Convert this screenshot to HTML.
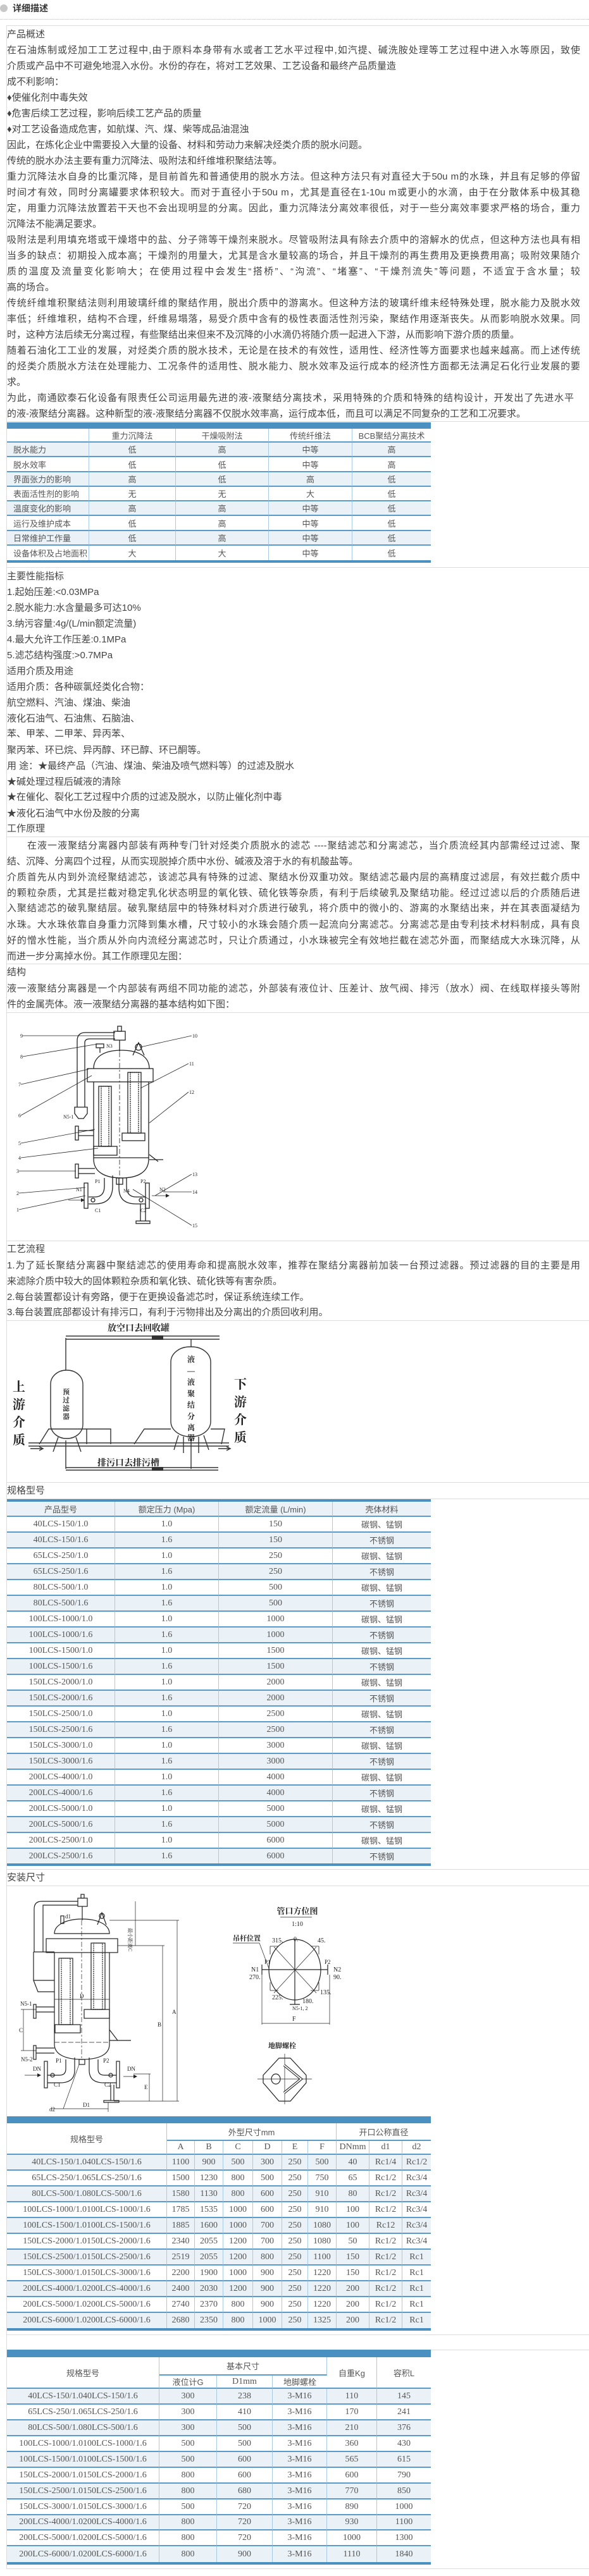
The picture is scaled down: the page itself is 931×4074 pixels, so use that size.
<!DOCTYPE html>
<html><head><meta charset="utf-8">
<style>
*{margin:0;padding:0;box-sizing:border-box}
body{width:931px;height:4074px;background:#fff;position:relative;overflow:hidden;font-family:"Liberation Sans","Noto Sans CJK SC",sans-serif;color:#444}
.t{position:absolute;left:11px;font-size:15px;line-height:24px;white-space:nowrap;height:24px}
.j{width:906px;white-space:normal;text-align:justify;text-align-last:justify;overflow:hidden}
.hl{position:absolute;left:11px;width:920px;height:1px;background:#dcdcdc}
.bar{position:absolute;left:11px;width:670px;background:#4a90c0}
table{position:absolute;left:11px;border-collapse:separate;border-spacing:0;table-layout:fixed;font-size:13px;color:#555}
td{padding:0;box-sizing:border-box;border-bottom:2px solid #5b9bc9;border-right:1px solid #a8c9e2;text-align:center;vertical-align:middle;overflow:hidden;white-space:nowrap}
td:last-child{border-right:none}
tr.b td{background:#eaf2f8}
.ser td{font-family:"Liberation Serif","Noto Serif CJK SC",serif;font-size:14px}
.ser td.c{font-family:"Liberation Sans","Noto Sans CJK SC",sans-serif;font-size:13px}
svg text{font-family:"Liberation Serif","Noto Serif CJK SC",serif;fill:#222;stroke:none}
</style></head><body>

<div style="position:absolute;left:0;top:7px;width:12px;height:12px;border-radius:6px;background:#c8c8c8"></div>
<div style="position:absolute;left:20px;top:4px;font-size:14px;font-weight:bold;color:#333;line-height:18px">详细描述</div>
<div style="position:absolute;left:0;top:30px;width:931px;border-top:1px dotted #bbb"></div>
<div style="position:absolute;left:10px;top:40px;width:921px;height:4023px;border:1px solid #dcdcdc;border-right:none"></div>

<div class="t" style="top:43px">产品概述</div>
<div class="t j" style="top:68px">在石油炼制或烃加工工艺过程中,由于原料本身带有水或者工艺水平过程中,如汽提、碱洗胺处理等工艺过程中进入水等原因，致使</div>
<div class="t" style="top:93px">介质或产品中不可避免地混入水份。水份的存在，将对工艺效果、工艺设备和最终产品质量造</div>
<div class="t" style="top:118px">成不利影响：</div>
<div class="t" style="top:143px">♦使催化剂中毒失效</div>
<div class="t" style="top:168px">♦危害后续工艺过程，影响后续工艺产品的质量</div>
<div class="t" style="top:193px">♦对工艺设备造成危害，如航煤、汽、煤、柴等成品油混浊</div>
<div class="t" style="top:218px">因此，在炼化企业中需要投入大量的设备、材料和劳动力来解决烃类介质的脱水问题。</div>
<div class="t" style="top:243px">传统的脱水办法主要有重力沉降法、吸附法和纤维堆积聚结法等。</div>
<div class="t j" style="top:268px">重力沉降法水自身的比重沉降，是目前首先和普通使用的脱水方法。但这种方法只有对直径大于50u m的水珠，并且有足够的停留</div>
<div class="t j" style="top:293px">时间才有效，同时分离罐要求体积较大。而对于直径小于50u m，尤其是直径在1-10u m或更小的水滴，由于在分散体系中极其稳</div>
<div class="t j" style="top:318px">定，用重力沉降法放置若干天也不会出现明显的分离。因此，重力沉降法分离效率很低，对于一些分离效率要求严格的场合，重力</div>
<div class="t" style="top:343px">沉降法不能满足要求。</div>
<div class="t j" style="top:368px">吸附法是利用填充塔或干燥塔中的盐、分子筛等干燥剂来脱水。尽管吸附法具有除去介质中的溶解水的优点，但这种方法也具有相</div>
<div class="t j" style="top:393px">当多的缺点：初期投入成本高；干燥剂的用量大，尤其是含水量较高的场合，并且干燥剂的再生费用及更换费用高；吸附效果随介</div>
<div class="t j" style="top:418px">质的温度及流量变化影响大；在使用过程中会发生“搭桥”、“沟流”、“堵塞”、“干燥剂流失”等问题，不适宜于含水量；较</div>
<div class="t" style="top:443px">高的场合。</div>
<div class="t j" style="top:468px">传统纤维堆积聚结法则利用玻璃纤维的聚结作用，脱出介质中的游离水。但这种方法的玻璃纤维未经特殊处理，脱水能力及脱水效</div>
<div class="t j" style="top:493px">率低；纤维堆积，结构不合理，纤维易塌落，易受介质中含有的极性表面活性剂污染，聚结作用逐渐丧失。从而影响脱水效果。同</div>
<div class="t" style="top:518px">时，这种方法后续无分离过程，有些聚结出来但来不及沉降的小水滴仍将随介质一起进入下游，从而影响下游介质的质量。</div>
<div class="t j" style="top:543px">随着石油化工工业的发展，对烃类介质的脱水技术，无论是在技术的有效性，适用性、经济性等方面要求也越来越高。而上述传统</div>
<div class="t j" style="top:568px">的烃类介质脱水方法在处理能力、工况条件的适用性、脱水能力、脱水效率及运行成本的经济性方面都无法满足石化行业发展的要</div>
<div class="t" style="top:593px">求。</div>
<div class="t j" style="top:618px;width:896px">为此，南通欧泰石化设备有限责任公司运用最先进的液-液聚结分离技术，采用特殊的介质和特殊的结构设计，开发出了先进水平</div>
<div class="t" style="top:643px">的液-液聚结分离器。这种新型的液-液聚结分离器不仅脱水效率高，运行成本低，而且可以满足不同复杂的工艺和工况要求。</div>
<div class="hl" style="top:666px"></div>

<!-- table 1 -->
<div class="bar" style="top:668px;height:10px"></div>
<table style="top:678px;width:670px">
<colgroup><col style="width:130px"><col style="width:137px"><col style="width:147px"><col style="width:132px"><col style="width:124px"></colgroup>
<tr style="height:22px"><td></td><td>重力沉降法</td><td>干燥吸附法</td><td>传统纤维法</td><td>BCB聚结分离技术</td></tr>
<tr class="b" style="height:23px"><td style="text-align:left;padding-left:10px">脱水能力</td><td>低</td><td>高</td><td>中等</td><td>高</td></tr>
<tr style="height:24px"><td style="text-align:left;padding-left:10px">脱水效率</td><td>低</td><td>低</td><td>中等</td><td>高</td></tr>
<tr class="b" style="height:23px"><td style="text-align:left;padding-left:10px">界面张力的影响</td><td>高</td><td>低</td><td>高</td><td>低</td></tr>
<tr style="height:23px"><td style="text-align:left;padding-left:10px">表面活性剂的影响</td><td>无</td><td>无</td><td>大</td><td>低</td></tr>
<tr class="b" style="height:23px"><td style="text-align:left;padding-left:10px">温度变化的影响</td><td>高</td><td>高</td><td>中等</td><td>低</td></tr>
<tr style="height:24px"><td style="text-align:left;padding-left:10px">运行及维护成本</td><td>低</td><td>高</td><td>中等</td><td>低</td></tr>
<tr class="b" style="height:23px"><td style="text-align:left;padding-left:10px">日常维护工作量</td><td>低</td><td>高</td><td>中等</td><td>低</td></tr>
<tr style="height:23px"><td style="text-align:left;padding-left:10px;border-bottom:none">设备体积及占地面积</td><td style="border-bottom:none">大</td><td style="border-bottom:none">大</td><td style="border-bottom:none">中等</td><td style="border-bottom:none">低</td></tr>
</table>
<div class="bar" style="top:886px;height:4px"></div>
<div class="hl" style="top:897px"></div>

<div class="t" style="top:900px">主要性能指标</div>
<div class="t" style="top:925px">1.起始压差:&lt;0.03MPa</div>
<div class="t" style="top:950px">2.脱水能力:水含量最多可达10%</div>
<div class="t" style="top:975px">3.纳污容量:4g/(L/min额定流量)</div>
<div class="t" style="top:1000px">4.最大允许工作压差:0.1MPa</div>
<div class="t" style="top:1025px">5.滤芯结构强度:&gt;0.7MPa</div>
<div class="t" style="top:1050px">适用介质及用途</div>
<div class="t" style="top:1075px">适用介质：各种碳氯烃类化合物：</div>
<div class="t" style="top:1100px">航空燃料、汽油、煤油、柴油</div>
<div class="t" style="top:1125px">液化石油气、石油焦、石脑油、</div>
<div class="t" style="top:1149px">苯、甲苯、二甲苯、异丙苯、</div>
<div class="t" style="top:1175px">聚丙苯、环已烷、异丙醇、环已醇、环已酮等。</div>
<div class="t" style="top:1200px">用 途：★最终产品（汽油、煤油、柴油及喷气燃料等）的过滤及脱水</div>
<div class="t" style="top:1225px">★碱处理过程后碱液的清除</div>
<div class="t" style="top:1249px">★在催化、裂化工艺过程中介质的过滤及脱水，以防止催化剂中毒</div>
<div class="t" style="top:1275px">★液化石油气中水份及胺的分离</div>
<div class="t" style="top:1299px">工作原理</div>
<div class="hl" style="top:1323px"></div>
<div class="t j" style="top:1326px">　　在液一液聚结分离器内部装有两种专门针对烃类介质脱水的滤芯 ----聚结滤芯和分离滤芯，当介质流经其内部需经过过滤、聚</div>
<div class="t" style="top:1351px">结、沉降、分离四个过程，从而实现脱掉介质中水份、碱液及溶于水的有机酸盐等。</div>
<div class="t j" style="top:1376px">介质首先从内到外流经聚结滤芯，该滤芯具有特殊的过滤、聚结水份双重功效。聚结滤芯最内层的高精度过滤层，有效拦截介质中</div>
<div class="t j" style="top:1401px">的颗粒杂质，尤其是拦截对稳定乳化状态明显的氧化铁、硫化铁等杂质，有利于后续破乳及聚结功能。经过过滤以后的介质随后进</div>
<div class="t j" style="top:1425px">入聚结滤芯的破乳聚结层。破乳聚结层中的特殊材料对介质进行破乳，将介质中的微小的、游离的水聚结出来，并在其表面凝结为</div>
<div class="t j" style="top:1451px">水珠。大水珠依靠自身重力沉降到集水槽，尺寸较小的水珠会随介质一起流向分离滤芯。分离滤芯是由专利技术材料制成，具有良</div>
<div class="t j" style="top:1476px">好的憎水性能，当介质从外向内流经分离滤芯时，只让介质通过，小水珠被完全有效地拦截在滤芯外面，而聚结成大水珠沉降，从</div>
<div class="t" style="top:1501px">而进一步分离掉水份。其工作原理见左图：</div>
<div class="hl" style="top:1524px"></div>
<div class="t" style="top:1526px">结构</div>
<div class="t j" style="top:1552px">液一液聚结分离器是一个内部装有两组不同功能的滤芯，外部装有液位计、压差计、放气阀、排污（放水）阀、在线取样接头等附</div>
<div class="t" style="top:1577px">件的金属壳体。液一液聚结分离器的基本结构如下图：</div>
<div class="hl" style="top:1601px"></div>

<!-- structure drawing -->
<svg style="position:absolute;left:0;top:1601px" width="340" height="361" viewBox="0 0 340 361">
<g stroke="#222" fill="none" stroke-width="1.3">
<path d="M122 150 V45 Q122 32 135 32 H182 M134 150 V48 Q134 42 142 42 H182"/>
<path d="M118 150 H138 V160 L132 168 H124 L118 160 Z"/>
<rect x="180" y="30" width="18" height="14"/><rect x="186" y="22" width="6" height="8"/>
<line x1="189" y1="44" x2="189" y2="62"/>
<path d="M148 89 C148 70 165 60 192 60 C219 60 236 70 236 89"/>
<rect x="138" y="89" width="104" height="21"/>
<path d="M148 110 V232 C148 255 170 262 192 262 C214 262 235 255 235 232 V110"/>
<line x1="148" y1="230" x2="235" y2="230"/>
<rect x="156" y="117" width="20" height="95"/><rect x="160" y="117" width="12" height="95" stroke-dasharray="2 1"/>
<rect x="148" y="212" width="37" height="14"/>
<rect x="202" y="95" width="21" height="96"/><rect x="206" y="95" width="13" height="96" stroke-dasharray="2 1"/>
<rect x="193" y="191" width="36" height="12"/>
<line x1="189" y1="63" x2="189" y2="262" stroke-dasharray="8 3 3 3" stroke-width="0.8"/>
<circle cx="219" cy="55" r="5"/><path d="M210 68 L219 48 L228 68"/>
<rect x="152" y="50" width="12" height="6"/><line x1="158" y1="56" x2="158" y2="64"/>
<path d="M124 187 H148 M124 195 H148"/><rect x="119" y="180" width="5" height="22"/>
<path d="M124 247 H150 M124 255 H150"/><rect x="119" y="240" width="5" height="22"/>
<path d="M236 225 L250 236 M236 233 H258"/>
<path d="M165 262 V275 Q165 292 150 292 H140 M178 258 V275 Q178 303 150 303 H140"/>
<rect x="133" y="270" width="6" height="40"/><circle cx="147" cy="297" r="3"/>
<path d="M200 262 V275 Q200 292 215 292 H230 M188 262 V278 Q188 303 215 303 H230"/>
<rect x="230" y="270" width="6" height="40"/><circle cx="223" cy="297" r="3"/>
<path d="M222 303 V330 M230 303 V330"/><rect x="215" y="330" width="22" height="4"/>
<rect x="184" y="262" width="10" height="10"/>
</g>
<g stroke="#222" stroke-width="0.8" fill="none">
<path d="M36 37 H180 M36 70 L155 50 M33 114 L140 90 M33 163 L145 100 M33 207 L150 185 M33 230 L155 215 M30 251 L120 251 M30 286 L135 277 M30 312 L135 290"/>
<path d="M303 37 L222 55 M298 81 L222 120 M298 126 L236 175 M303 256 L245 290 M303 284 L258 284 M303 337 L210 280"/>
<path d="M108 297 H128 M240 290 H262"/>
</g>
<path d="M128 294 L134 297 L128 300Z M262 287 L268 290 L262 293Z" fill="#222"/>
<g font-size="8">
<text x="32" y="40">9</text><text x="32" y="73">8</text><text x="29" y="117">7</text><text x="29" y="166">6</text><text x="100" y="168">N5-1</text><text x="29" y="210">5</text><text x="29" y="233">4</text><text x="26" y="254">3</text><text x="26" y="289">2</text><text x="26" y="315">1</text>
<text x="304" y="40">10</text><text x="299" y="84">11</text><text x="299" y="129">12</text><text x="304" y="259">13</text><text x="304" y="287">14</text><text x="304" y="340">15</text>
<text x="168" y="56">N3</text><text x="150" y="270">P1</text><text x="222" y="270">P2</text><text x="120" y="283">N1</text><text x="252" y="283">N2</text><text x="150" y="316">C1</text><text x="222" y="316">C2</text><text x="195" y="285">N4</text>
</g>
<g font-size="13" font-weight="bold" style="font-family:'Noto Serif CJK SC',serif">
<text x="347" y="40">1、进料口</text><text x="347" y="61">2、压力表口</text><text x="347" y="82">3、液位计口</text><text x="347" y="102">4、聚结滤芯</text><text x="347" y="123">5、滤芯连接器</text><text x="347" y="144">6、金属密封垫</text><text x="347" y="165">7、连接螺栓</text><text x="347" y="186">8、放空口</text><text x="347" y="207">9、设备吊杆</text><text x="347" y="227">10、设备吊耳</text><text x="347" y="248">11、分离滤芯</text><text x="347" y="269">12、设备壳体</text><text x="347" y="290">13、出料口</text><text x="347" y="311">14、取样口</text><text x="347" y="332">15、排污口</text>
</g>
</svg>
<div class="hl" style="top:1962px"></div>
<div class="t" style="top:1964px">工艺流程</div>
<div class="t j" style="top:1990px">1.为了延长聚结分离器中聚结滤芯的使用寿命和提高脱水效率，推荐在聚结分离器前加装一台预过滤器。预过滤器的目的主要是用</div>
<div class="t" style="top:2015px">来滤除介质中较大的固体颗粒杂质和氧化铁、硫化铁等有害杂质。</div>
<div class="t" style="top:2040px">2.每台装置都设计有旁路，便于在更换设备滤芯时，保证系统连续工作。</div>
<div class="t" style="top:2064px">3.每台装置底部都设计有排污口，有利于污物排出及分离出的介质回收利用。</div>
<div class="hl" style="top:2088px"></div>

<!-- flow drawing -->
<svg style="position:absolute;left:0;top:2088px" width="400" height="256" viewBox="0 0 400 256">
<g stroke="#333" fill="none" stroke-width="1.4">
<path d="M104 25 H347 M104 30 H347"/>
<path d="M104 28 V79 M302 30 V42"/>
<rect x="80" y="79" width="51" height="108" rx="25" ry="22"/>
<rect x="270" y="42" width="63" height="142" rx="30" ry="24"/>
<path d="M45 194 H362 M45 199 H362"/>
<path d="M62 196 L77 172 H137 V196 M137 172 H175 V196"/>
<path d="M212 196 L228 172 H270 M333 172 H355 L350 196"/>
<path d="M92 185 L84 208 M120 185 L128 208 M282 182 L275 205 M322 182 L330 205 M290 184 L290 210 M314 184 L314 210"/>
<path d="M104 190 V235 M302 186 V235 M104 233 H345 M104 237 H345"/>
</g>
<path d="M240 24 H258 V31 H240Z M240 232 H258 V238 H240Z" fill="#333"/>
<path d="M48 203 H66 M62 200 L68 203 L62 206 M345 203 H362 M358 200 L364 203 L358 206" stroke="#333" stroke-width="1.5" fill="none"/>
<g font-weight="bold" style="font-family:'Noto Serif CJK SC',serif" fill="#222">
<text x="170" y="17" font-size="14">放空口去回收罐</text>
<text x="154" y="230" font-size="14">排污口去排污槽</text>
<g font-size="11"><text x="99" y="117">预</text><text x="99" y="130">过</text><text x="99" y="143">滤</text><text x="99" y="156">器</text></g>
<g font-size="12"><text x="296" y="66">液</text><text x="296" y="84">—</text><text x="296" y="102">液</text><text x="296" y="120">聚</text><text x="296" y="138">结</text><text x="296" y="156">分</text><text x="296" y="174">离</text><text x="296" y="190">器</text></g>
<g font-size="20"><text x="20" y="112">上</text><text x="20" y="140">游</text><text x="20" y="168">介</text><text x="20" y="196">质</text>
<text x="370" y="108">下</text><text x="370" y="136">游</text><text x="370" y="164">介</text><text x="370" y="192">质</text></g>
</g>
</svg>
<div class="hl" style="top:2344px"></div>
<div class="t" style="top:2346px">规格型号</div>
<div class="hl" style="top:2370px"></div>

<!-- spec table -->
<div class="bar" style="top:2371px;height:4px"></div>
<table class="ser" style="top:2375px;width:670px">
<colgroup><col style="width:171px"><col style="width:164px"><col style="width:180px"><col style="width:155px"></colgroup>
<tr class="b" style="height:24px"><td class="c">产品型号</td><td class="c">额定压力 (Mpa)</td><td class="c">额定流量 (L/min)</td><td class="c">壳体材料</td></tr>
<tr style="height:25px"><td>40LCS-150/1.0</td><td>1.0</td><td>150</td><td class="c">碳钢、锰钢</td></tr>
<tr class="b" style="height:25px"><td>40LCS-150/1.6</td><td>1.6</td><td>150</td><td class="c">不锈钢</td></tr>
<tr style="height:25px"><td>65LCS-250/1.0</td><td>1.0</td><td>250</td><td class="c">碳钢、锰钢</td></tr>
<tr class="b" style="height:25px"><td>65LCS-250/1.6</td><td>1.6</td><td>250</td><td class="c">不锈钢</td></tr>
<tr style="height:25px"><td>80LCS-500/1.0</td><td>1.0</td><td>500</td><td class="c">碳钢、锰钢</td></tr>
<tr class="b" style="height:25px"><td>80LCS-500/1.6</td><td>1.6</td><td>500</td><td class="c">不锈钢</td></tr>
<tr style="height:25px"><td>100LCS-1000/1.0</td><td>1.0</td><td>1000</td><td class="c">碳钢、锰钢</td></tr>
<tr class="b" style="height:25px"><td>100LCS-1000/1.6</td><td>1.6</td><td>1000</td><td class="c">不锈钢</td></tr>
<tr style="height:25px"><td>100LCS-1500/1.0</td><td>1.0</td><td>1500</td><td class="c">碳钢、锰钢</td></tr>
<tr class="b" style="height:25px"><td>100LCS-1500/1.6</td><td>1.6</td><td>1500</td><td class="c">不锈钢</td></tr>
<tr style="height:25px"><td>150LCS-2000/1.0</td><td>1.0</td><td>2000</td><td class="c">碳钢、锰钢</td></tr>
<tr class="b" style="height:25px"><td>150LCS-2000/1.6</td><td>1.6</td><td>2000</td><td class="c">不锈钢</td></tr>
<tr style="height:25px"><td>150LCS-2500/1.0</td><td>1.0</td><td>2500</td><td class="c">碳钢、锰钢</td></tr>
<tr class="b" style="height:25px"><td>150LCS-2500/1.6</td><td>1.6</td><td>2500</td><td class="c">不锈钢</td></tr>
<tr style="height:25px"><td>150LCS-3000/1.0</td><td>1.0</td><td>3000</td><td class="c">碳钢、锰钢</td></tr>
<tr class="b" style="height:25px"><td>150LCS-3000/1.6</td><td>1.6</td><td>3000</td><td class="c">不锈钢</td></tr>
<tr style="height:25px"><td>200LCS-4000/1.0</td><td>1.0</td><td>4000</td><td class="c">碳钢、锰钢</td></tr>
<tr class="b" style="height:25px"><td>200LCS-4000/1.6</td><td>1.6</td><td>4000</td><td class="c">不锈钢</td></tr>
<tr style="height:25px"><td>200LCS-5000/1.0</td><td>1.0</td><td>5000</td><td class="c">碳钢、锰钢</td></tr>
<tr class="b" style="height:25px"><td>200LCS-5000/1.6</td><td>1.6</td><td>5000</td><td class="c">不锈钢</td></tr>
<tr style="height:25px"><td>200LCS-2500/1.0</td><td>1.0</td><td>6000</td><td class="c">碳钢、锰钢</td></tr>
<tr class="b" style="height:23px"><td style="border-bottom:none">200LCS-2500/1.6</td><td style="border-bottom:none">1.6</td><td style="border-bottom:none">6000</td><td class="c" style="border-bottom:none">不锈钢</td></tr>
</table>
<div class="bar" style="top:2947px;height:4px"></div>
<div class="hl" style="top:2956px"></div>
<div class="t" style="top:2958px">安装尺寸</div>
<div class="hl" style="top:2982px"></div>

<!-- install drawing -->
<svg style="position:absolute;left:0;top:2982px" width="560" height="364" viewBox="0 0 560 364">
<g stroke="#222" fill="none" stroke-width="1.2">
<rect x="123" y="20" width="15" height="13"/><rect x="128" y="14" width="5" height="6"/>
<line x1="130" y1="33" x2="130" y2="55"/>
<path d="M123 25 H66 Q54 25 54 37 V105 M123 31 H68 Q68 31 68 40 V105"/>
<path d="M53 105 H86 M53 105 V150 H86 M53 150 L60 168 H86"/>
<rect x="96" y="48" width="5" height="12"/>
<path d="M86 76 C86 62 105 53 130 53 C155 53 173 62 173 76 Z"/>
<rect x="73" y="84" width="113" height="22"/>
<path d="M86 106 V251 C86 268 105 275 130 275 C155 275 173 268 173 251 V106"/>
<circle cx="161" cy="48" r="4"/><path d="M154 62 L161 43 L168 62"/>
<rect x="93" y="115" width="22" height="105"/><rect x="97" y="115" width="14" height="105" stroke-dasharray="2 1"/>
<rect x="87" y="220" width="40" height="13"/>
<rect x="144" y="91" width="22" height="105"/><rect x="148" y="91" width="14" height="105" stroke-dasharray="2 1"/>
<rect x="133" y="196" width="40" height="14"/>
<line x1="129" y1="55" x2="129" y2="275" stroke-dasharray="8 3 3 3" stroke-width="0.7"/>
<line x1="86" y1="248" x2="173" y2="248" stroke-dasharray="8 3" stroke-width="0.7"/>
<path d="M57 192 H86 M57 200 H86"/><rect x="53" y="188" width="4" height="22"/>
<path d="M57 257 H86 M57 265 H86"/><rect x="53" y="253" width="4" height="22"/>
<path d="M173 228 L186 245 M173 245 H207"/>
<path d="M104 275 V290 Q104 300 94 300 H75 M118 272 V292 Q118 312 95 312 H75"/>
<rect x="70" y="278" width="5" height="42"/><circle cx="83" cy="300" r="3"/>
<path d="M155 275 V290 Q155 300 165 300 H184 M141 272 V292 Q141 312 164 312 H184"/>
<rect x="184" y="278" width="5" height="42"/><circle cx="175" cy="300" r="3"/>
<path d="M175 315 V340 M180 315 V340"/><rect x="164" y="340" width="24" height="3"/>
<rect x="125" y="275" width="9" height="8"/>
</g>
<g stroke="#222" fill="none" stroke-width="0.7">
<path d="M86 180 H173 M37 196 V261 M33 196 H57 M33 261 H57"/>
<path d="M214 25 V95 M186 95 H260 M257 95 V341 M173 55 H283 M280 55 V341 M236 298 V341 M211 298 H238 M180 341 H283 M100 353 H171 M171 343 V358 M80 353 H100 L125 283"/>
<path d="M39 300 H59 M195 302 H211"/>
</g>
<path d="M59 297 L65 300 L59 303Z M211 299 L217 302 L211 305Z" fill="#222"/>
<g font-size="9">
<text x="103" y="52">d1</text><text x="126" y="178">D</text><text x="30" y="232">C</text><text x="32" y="190">N5-1</text><text x="33" y="278">N5-2</text>
<text x="88" y="280">P1</text><text x="163" y="280">P2</text><text x="52" y="293">DN</text><text x="201" y="293">DN</text><text x="85" y="318">C1</text><text x="165" y="318">C2</text>
<text x="78" y="357">d2</text><text x="131" y="350">D1</text><text x="272" y="203">A</text><text x="249" y="223">B</text><text x="228" y="322">E</text>
<text x="210" y="60" transform="rotate(90 203 60)" font-size="8">最小距离C</text>
</g>
<g stroke="#222" fill="none" stroke-width="1.2">
<ellipse cx="466" cy="133" rx="41" ry="48"/>
<path d="M414 133 H518 M414 125 V141 M518 125 V141 M466 85 V188 M458 188 H474"/>
<path d="M433 97 L500 170 M500 97 L433 170" stroke-width="0.7"/>
<path d="M427 96 H440 M427 96 V109 M504 96 H491 M504 96 V109 M427 166 H440 M427 166 V153 M504 166 H491 M504 166 V153" stroke-width="0.8"/>
<path d="M414 141 V220 M521 141 V220 M414 218 H521 M443 50 H493 M368 91 H410 L425 131" stroke-width="0.7"/>
<polygon points="441,273 459,273 484,300 484,312 459,341 441,341 416,312 416,300"/>
<path d="M407 306 H493 M450 266 V346" stroke-width="0.7"/>
<ellipse cx="436" cy="306" rx="7" ry="8"/>
<path d="M449 284 L476 306 L449 328" stroke-width="4"/>
<path d="M449 284 L476 306 L449 328" stroke="#fff" stroke-width="1.8"/>
</g>
<g font-size="9">
<text x="470" y="45" font-size="13" font-weight="bold" text-anchor="middle" style="font-family:'Noto Serif CJK SC',serif">管口方位图</text>
<text x="470" y="64" font-size="10" text-anchor="middle">1:10</text>
<text x="368" y="87" font-size="11" font-weight="bold" style="font-family:'Noto Serif CJK SC',serif">吊杆位置</text>
<text x="430" y="90" font-size="10">315.</text><text x="464" y="88" font-size="10">0.</text><text x="502" y="90" font-size="10">45.</text>
<text x="418" y="124">P1</text><text x="513" y="124">P2</text><text x="397" y="136" font-size="10">N1</text><text x="394" y="148" font-size="10">270.</text>
<text x="527" y="136" font-size="10">N2</text><text x="527" y="148" font-size="10">90.</text>
<text x="430" y="180" font-size="10">225.</text><text x="478" y="186" font-size="10">180.</text><text x="506" y="172" font-size="10">135.</text>
<text x="462" y="197" font-size="8">N5-1, 2</text><text x="462" y="214" font-size="10">F</text>
<text x="446" y="257" font-size="11" font-weight="bold" text-anchor="middle" style="font-family:'Noto Serif CJK SC',serif">地脚螺栓</text>
</g>
</svg>

<!-- table 2 -->
<div class="bar" style="top:3347px;height:11px"></div>
<table class="ser" style="top:3358px;width:670px">
<colgroup><col style="width:253px"><col style="width:44px"><col style="width:45px"><col style="width:47px"><col style="width:46px"><col style="width:41px"><col style="width:45px"><col style="width:52px"><col style="width:52px"><col style="width:45px"></colgroup>
<tr style="height:28px"><td class="c" rowspan="2">规格型号</td><td class="c" colspan="6">外型尺寸mm</td><td class="c" colspan="3">开口公称直径</td></tr>
<tr style="height:22px"><td>A</td><td>B</td><td>C</td><td>D</td><td>E</td><td>F</td><td>DNmm</td><td>d1</td><td>d2</td></tr>
<tr class="b" style="height:25px"><td>40LCS-150/1.040LCS-150/1.6</td><td>1100</td><td>900</td><td>500</td><td>300</td><td>250</td><td>500</td><td>40</td><td>Rc1/4</td><td>Rc1/2</td></tr>
<tr style="height:25px"><td>65LCS-250/1.065LCS-250/1.6</td><td>1500</td><td>1230</td><td>800</td><td>500</td><td>250</td><td>750</td><td>65</td><td>Rc1/2</td><td>Rc3/4</td></tr>
<tr class="b" style="height:25px"><td>80LCS-500/1.080LCS-500/1.6</td><td>1580</td><td>1130</td><td>800</td><td>600</td><td>250</td><td>910</td><td>80</td><td>Rc1/2</td><td>Rc3/4</td></tr>
<tr style="height:25px"><td>100LCS-1000/1.0100LCS-1000/1.6</td><td>1785</td><td>1535</td><td>1000</td><td>600</td><td>250</td><td>910</td><td>100</td><td>Rc1/2</td><td>Rc3/4</td></tr>
<tr class="b" style="height:25px"><td>100LCS-1500/1.0100LCS-1500/1.6</td><td>1885</td><td>1600</td><td>1000</td><td>700</td><td>250</td><td>1080</td><td>100</td><td>Rc12</td><td>Rc3/4</td></tr>
<tr style="height:25px"><td>150LCS-2000/1.0150LCS-2000/1.6</td><td>2340</td><td>2055</td><td>1200</td><td>700</td><td>250</td><td>1080</td><td>50</td><td>Rc1/2</td><td>Rc3/4</td></tr>
<tr class="b" style="height:25px"><td>150LCS-2500/1.0150LCS-2500/1.6</td><td>2519</td><td>2055</td><td>1200</td><td>800</td><td>250</td><td>1100</td><td>150</td><td>Rc1/2</td><td>Rc1</td></tr>
<tr style="height:25px"><td>150LCS-3000/1.0150LCS-3000/1.6</td><td>2200</td><td>1900</td><td>1000</td><td>900</td><td>250</td><td>1220</td><td>150</td><td>Rc1/2</td><td>Rc1</td></tr>
<tr class="b" style="height:25px"><td>200LCS-4000/1.0200LCS-4000/1.6</td><td>2400</td><td>2030</td><td>1200</td><td>900</td><td>250</td><td>1220</td><td>200</td><td>Rc1/2</td><td>Rc1</td></tr>
<tr style="height:25px"><td>200LCS-5000/1.0200LCS-5000/1.6</td><td>2740</td><td>2370</td><td>800</td><td>900</td><td>250</td><td>1220</td><td>200</td><td>Rc1/2</td><td>Rc1</td></tr>
<tr class="b" style="height:24px"><td style="border-bottom:none">200LCS-6000/1.0200LCS-6000/1.6</td><td style="border-bottom:none">2680</td><td style="border-bottom:none">2350</td><td style="border-bottom:none">800</td><td style="border-bottom:none">1000</td><td style="border-bottom:none">250</td><td style="border-bottom:none">1325</td><td style="border-bottom:none">200</td><td style="border-bottom:none">Rc1/2</td><td style="border-bottom:none">Rc1</td></tr>
</table>
<div class="bar" style="top:3682px;height:4px"></div>
<div class="hl" style="top:3692px"></div>
<div class="hl" style="top:3716px"></div>

<!-- table 3 -->
<div class="bar" style="top:3716px;height:12px"></div>
<table class="ser" style="top:3728px;width:670px">
<colgroup><col style="width:241px"><col style="width:91px"><col style="width:88px"><col style="width:86px"><col style="width:79px"><col style="width:85px"></colgroup>
<tr style="height:29px"><td class="c" rowspan="2">规格型号</td><td class="c" colspan="3">基本尺寸</td><td class="c" rowspan="2">自重Kg</td><td class="c" rowspan="2">容积L</td></tr>
<tr style="height:21px"><td class="c">液位计G</td><td>D1mm</td><td class="c">地脚螺栓</td></tr>
<tr class="b" style="height:25px"><td>40LCS-150/1.040LCS-150/1.6</td><td>300</td><td>238</td><td>3-M16</td><td>110</td><td>145</td></tr>
<tr style="height:25px"><td>65LCS-250/1.065LCS-250/1.6</td><td>300</td><td>410</td><td>3-M16</td><td>170</td><td>241</td></tr>
<tr class="b" style="height:25px"><td>80LCS-500/1.080LCS-500/1.6</td><td>300</td><td>500</td><td>3-M16</td><td>210</td><td>376</td></tr>
<tr style="height:25px"><td>100LCS-1000/1.0100LCS-1000/1.6</td><td>500</td><td>500</td><td>3-M16</td><td>360</td><td>430</td></tr>
<tr class="b" style="height:25px"><td>100LCS-1500/1.0100LCS-1500/1.6</td><td>500</td><td>600</td><td>3-M16</td><td>565</td><td>615</td></tr>
<tr style="height:25px"><td>150LCS-2000/1.0150LCS-2000/1.6</td><td>800</td><td>600</td><td>3-M16</td><td>600</td><td>790</td></tr>
<tr class="b" style="height:25px"><td>150LCS-2500/1.0150LCS-2500/1.6</td><td>800</td><td>680</td><td>3-M16</td><td>770</td><td>850</td></tr>
<tr style="height:25px"><td>150LCS-3000/1.0150LCS-3000/1.6</td><td>500</td><td>720</td><td>3-M16</td><td>890</td><td>1000</td></tr>
<tr class="b" style="height:24px"><td>200LCS-4000/1.0200LCS-4000/1.6</td><td>800</td><td>720</td><td>3-M16</td><td>930</td><td>1100</td></tr>
<tr style="height:25px"><td>200LCS-5000/1.0200LCS-5000/1.6</td><td>800</td><td>720</td><td>3-M16</td><td>1000</td><td>1300</td></tr>
<tr class="b" style="height:25px"><td style="border-bottom:none">200LCS-6000/1.0200LCS-6000/1.6</td><td style="border-bottom:none">800</td><td style="border-bottom:none">900</td><td style="border-bottom:none">3-M16</td><td style="border-bottom:none">1110</td><td style="border-bottom:none">1840</td></tr>
</table>
<div class="bar" style="top:4052px;height:4px"></div>

</body></html>
